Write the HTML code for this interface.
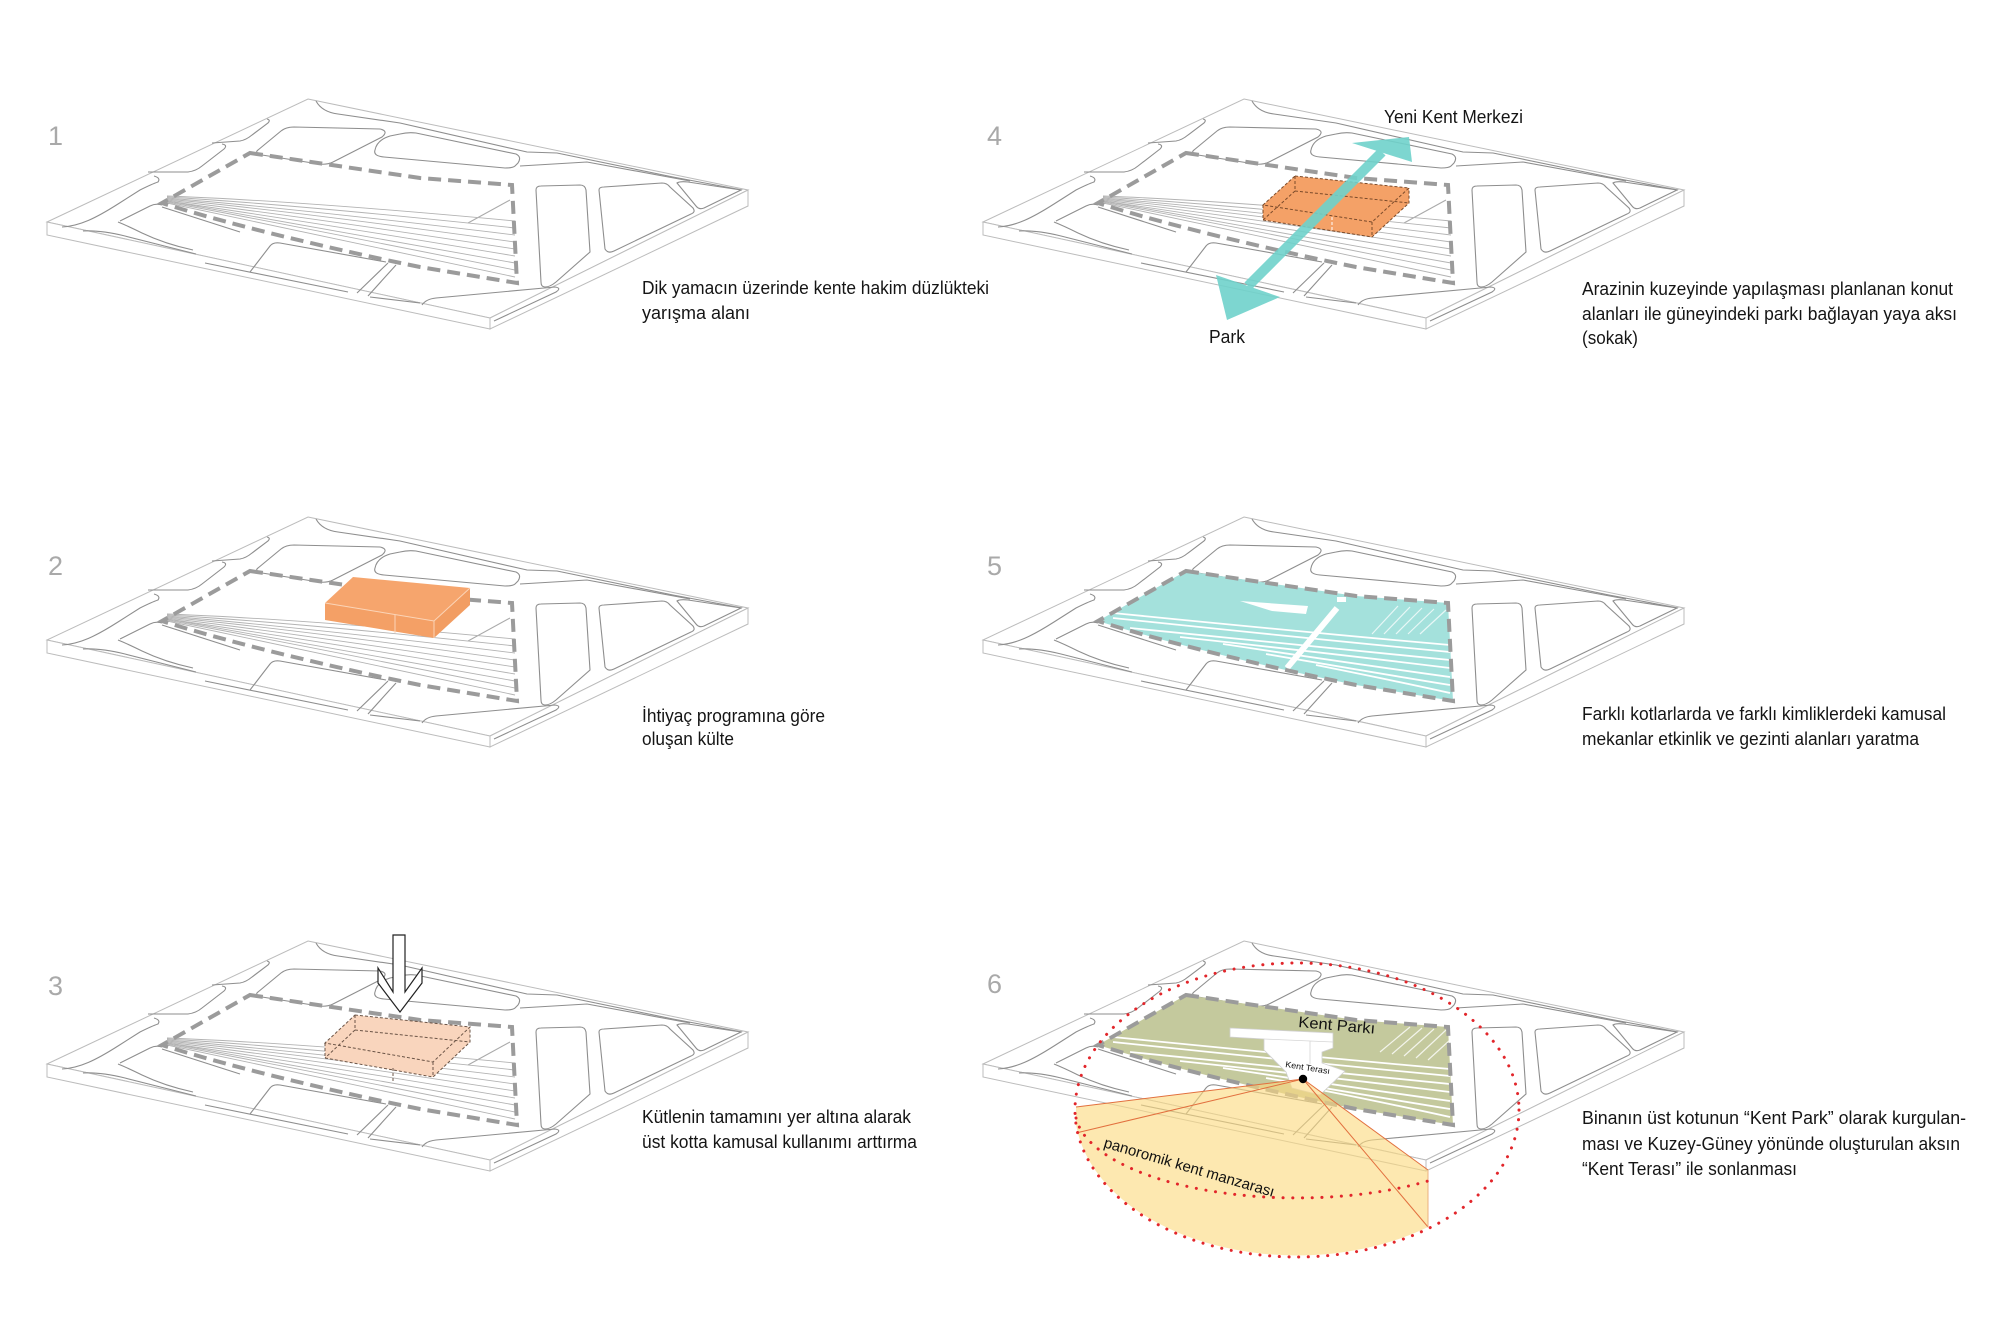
<!DOCTYPE html>
<html><head><meta charset="utf-8"><style>
html,body{margin:0;padding:0;background:#fff;}
svg{display:block;}
text{font-family:"Liberation Sans",Arial,sans-serif;}
</style></head><body>
<svg width="2000" height="1321" viewBox="0 0 2000 1321" xmlns="http://www.w3.org/2000/svg">
<defs>
<g id="base">
 <path d="M308,99 L748,190 L490,318 L47,222 Z" fill="#fff" stroke="#bcbcbc" stroke-width="1"/>
 <path d="M47,222 L490,318 L490,329 L47,235 Z" fill="#fff" stroke="#bcbcbc" stroke-width="1"/>
 <path d="M490,318 L748,190 L748,206 L490,329 Z" fill="#fff" stroke="#bcbcbc" stroke-width="1"/>
 <g fill="none" stroke="#8e8e8e" stroke-width="1.1">
  <path d="M316,101 Q322,112 338,114 L400,123 L527,152 L557,153 L673,177 L742,190"/>
  <path d="M258,150 L281,131 Q286,127 294,127 L380,129 Q389,131 382,137 L333,162 Q327,165 319,164 L262,155 Q254,153 258,150 Z"/>
  <path d="M375,150 Q377,140 390,136 L400,134 Q408,132 416,133 L516,154 Q522,157 518,163 L515,166 Q513,168 505,168 L384,157 Q373,156 375,150 Z"/>
  <path d="M520,166 L587,162 L690,181"/>
  <path d="M62,227 C80,226 96,218 118,204 L140,190 Q152,184 158,182 Q161,178 154,176"/>
  <path d="M148,172 L188,172 Q196,171 202,166 L224,149 Q228,145 222,144"/>
  <path d="M212,143 L240,141 Q246,140 252,135 L268,123 Q271,120 267,119"/>
  <path d="M83,231 Q100,230 125,236 L196,254"/>
  <path d="M118,222 Q128,226 142,233 Q165,244 193,250"/>
  <path d="M120,221 L150,206 Q156,203 162,205"/>
  <path d="M162,207 L240,232"/>
  <path d="M205,263 L348,292"/>
  <path d="M250,272 L270,246 Q273,242 280,243 L386,262"/>
  <path d="M388,263 L357,293"/>
  <path d="M396,265 L368,296"/>
  <path d="M370,297 L420,303"/>
  <path d="M422,305 Q426,299 436,298 L555,287 Q562,288 556,292 L494,321"/>
  <path d="M536,190 Q536,186 541,186 L580,185 Q585,185 586,190 L590,252 L556,282 Q550,287 545,287 Q541,287 541,282 Z"/>
  <path d="M599,190 Q599,187 604,187 L662,183 Q667,183 670,187 L693,208 Q696,212 691,214 L614,251 Q608,254 605,249 Z"/>
  <path d="M677,183 Q680,181 688,182 L741,190 L704,208 Q699,210 696,206 Z"/>
  <path d="M468,223 L510,200" stroke="#aaa"/>
 </g>
</g>
<path id="site" d="M250,153 L420,178 L512,185 L517,283 L420,267 C360,255 240,228 162,203 Z"/>
<g id="terr">
 <path d="M167,196 Q300,201 515,221"/>
 <path d="M167,197 Q300,205 515,228"/>
 <path d="M167,198 Q300,209 515,235"/>
 <path d="M167,199 Q300,212 515,242"/>
 <path d="M167,200 Q300,216 515,249"/>
 <path d="M167,201 Q300,220 515,256"/>
 <path d="M167,201 Q300,224 515,263"/>
 <path d="M167,202 Q300,227 515,270"/>
 <path d="M167,203 Q300,231 515,277"/>
</g>
<g id="terr2">
 <path d="M177,195 Q377,215 514,227"/>
 <path d="M177,200 Q377,221 514,234"/>
 <path d="M194,210 Q377,229 514,242"/>
 <path d="M244,219 Q400,236 514,250"/>
 <path d="M287,226 Q420,246 514,259"/>
 <path d="M330,236 Q440,255 514,267"/>
 <path d="M380,247 Q460,263 514,275"/>
</g>
</defs>

<!-- PANEL 1 -->
<use href="#base"/>
<use href="#terr" fill="none" stroke="#b3b3b3" stroke-width="0.9"/>
<use href="#site" fill="none" stroke="#9b9b9b" stroke-width="4" stroke-dasharray="13 7"/>

<!-- PANEL 2 -->
<g transform="translate(0,418)">
 <use href="#base"/>
 <use href="#terr" fill="none" stroke="#b3b3b3" stroke-width="0.9"/>
 <use href="#site" fill="none" stroke="#9b9b9b" stroke-width="4" stroke-dasharray="13 7"/>
</g>
<path d="M325,603 L434,621 L434,638 L325,620 Z" fill="#f4a066"/>
<path d="M434,621 L470,588 L470,605 L434,638 Z" fill="#f29d62"/>
<path d="M353,577 L470,588 L434,621 L325,603 Z" fill="#f6a56d"/>
<g stroke="#fbd5b8" stroke-width="1" fill="none">
 <path d="M325,603 L434,621 L470,588"/><path d="M434,621 L434,638"/><path d="M395,615 L395,633"/>
</g>

<!-- PANEL 3 -->
<g transform="translate(0,842)">
 <use href="#base"/>
 <use href="#terr" fill="none" stroke="#b3b3b3" stroke-width="0.9"/>
 <use href="#site" fill="none" stroke="#9b9b9b" stroke-width="4" stroke-dasharray="13 7"/>
</g>
<path d="M355,1015 L470,1027 L470,1042 L433,1077 L325,1058 L325,1043 Z" fill="#f9d5bd"/>
<g stroke="#6b5446" stroke-width="1" fill="none" stroke-dasharray="3 2">
 <path d="M355,1015 L470,1027 L433,1062 L325,1043 Z"/>
 <path d="M325,1043 L325,1058 L433,1077 L470,1042 L470,1027"/>
 <path d="M433,1062 L433,1077"/>
 <path d="M355,1015 L355,1030 L325,1058 M355,1030 L470,1042"/>
 <path d="M393,1068 L393,1083"/>
</g>
<path d="M393,935 L393,992 L378,968 L378,983 L400,1012 L422,983 L422,968 L405,992 L405,935 Z" fill="#fff" stroke="#222" stroke-width="1.2" stroke-linejoin="miter"/>

<!-- PANEL 4 -->
<g transform="translate(936,0)">
 <use href="#base"/>
 <use href="#terr" fill="none" stroke="#b3b3b3" stroke-width="0.9"/>
 <use href="#site" fill="none" stroke="#9b9b9b" stroke-width="4" stroke-dasharray="13 7"/>
</g>
<path d="M1295,176 L1409,188 L1409,203 L1372,237 L1263,220 L1263,205 Z" fill="#f4a167"/>
<g stroke="#7a4a2a" stroke-width="1" fill="none" stroke-dasharray="3 2">
 <path d="M1295,176 L1409,188 L1372,222 L1263,205 Z"/>
 <path d="M1263,205 L1263,220 L1372,237 L1409,203 L1409,188"/>
 <path d="M1372,222 L1372,237"/>
 <path d="M1295,176 L1295,191 L1263,220 M1295,191 L1409,203"/>
</g>
<path d="M1332,217 L1332,235" stroke="#fff" stroke-width="1" stroke-dasharray="3 2"/>
<g fill="#6fd2cb" opacity="0.9">
 <line x1="1248" y1="286" x2="1382" y2="152" stroke="#6fd2cb" stroke-width="10"/>
 <polygon points="1352,143 1409,137 1412,162"/>
 <polygon points="1216,275 1280,297 1227,320"/>
</g>

<!-- PANEL 5 -->
<g transform="translate(936,418)">
 <use href="#base"/>
 <use href="#site" fill="#a4e1dc" stroke="none"/>
 <use href="#terr2" fill="none" stroke="#ffffff" stroke-width="1.8"/>
</g>
<g stroke="#fff" stroke-width="1.2" opacity="0.75">
 <line x1="1372" y1="634" x2="1398" y2="606"/>
 <line x1="1384" y1="634" x2="1410" y2="607"/>
 <line x1="1396" y1="634" x2="1422" y2="608"/>
 <line x1="1408" y1="634" x2="1434" y2="609"/>
 <line x1="1420" y1="634" x2="1446" y2="610"/>
</g>
<line x1="1287" y1="668" x2="1337" y2="608" stroke="#fff" stroke-width="6"/>
<polygon points="1240,601 1308,606 1306,614 1272,611" fill="#fff"/>
<rect x="1337" y="597" width="9" height="5" fill="#fff"/>
<use href="#site" transform="translate(936,418)" fill="none" stroke="#9b9b9b" stroke-width="4" stroke-dasharray="13 7"/>

<!-- PANEL 6 -->
<g transform="translate(936,842)">
 <use href="#base"/>
 <use href="#site" fill="#c4c99d" stroke="none"/>
 <use href="#terr2" fill="none" stroke="#ffffff" stroke-width="1.8"/>
</g>
<g stroke="#fff" stroke-width="1.2" opacity="0.8">
 <line x1="1380" y1="1052" x2="1410" y2="1027"/>
 <line x1="1392" y1="1054" x2="1422" y2="1028"/>
 <line x1="1404" y1="1056" x2="1434" y2="1029"/>
 <line x1="1416" y1="1058" x2="1446" y2="1030"/>
 <line x1="1428" y1="1060" x2="1450" y2="1040"/>
</g>
<polygon points="1230,1028 1333,1033 1333,1048 1322,1052 1322,1063 1345,1071 1320,1095 1292,1088 1286,1072 1264,1050 1264,1039 1230,1037" fill="#fff" stroke="#d0d0d0" stroke-width="0.8"/>
<path d="M1264,1039 L1333,1042 M1310,1041 L1310,1064" stroke="#d6d6d6" stroke-width="0.8" fill="none"/>
<use href="#site" transform="translate(936,842)" fill="none" stroke="#9b9b9b" stroke-width="4" stroke-dasharray="13 7"/>
<path d="M1076,1107 L1303,1079 L1428,1170 L1428,1227 A222,147 0 0,1 1076,1124 Z" fill="#fcda80" opacity="0.62"/>
<g stroke="#e2703f" stroke-width="1" fill="none">
 <path d="M1076,1107 L1303,1079"/>
 <path d="M1076,1133 L1303,1079"/>
 <path d="M1303,1079 L1428,1170"/>
 <path d="M1303,1079 L1428,1227"/>
 <path d="M1428,1170 L1428,1227" stroke="#eab080"/>
</g>
<ellipse cx="1297" cy="1110" rx="222" ry="147" fill="none" stroke="#e2262b" stroke-width="3" stroke-linecap="round" stroke-dasharray="0.1 9.6"/>
<path d="M1076,1118 A222,88 0 0,0 1428,1181" fill="none" stroke="#e2262b" stroke-width="3" stroke-linecap="round" stroke-dasharray="0.1 9.6"/>
<circle cx="1303" cy="1079" r="4.2" fill="#000"/>
<text transform="translate(1298,1027) rotate(5)" font-size="15.5" fill="#111" textLength="77" lengthAdjust="spacingAndGlyphs">Kent Parkı</text>
<text transform="translate(1285,1067) rotate(9)" font-size="8.5" fill="#111" textLength="45" lengthAdjust="spacingAndGlyphs">Kent Terası</text>
<text transform="translate(1103,1147) rotate(16.4)" font-size="15" fill="#111" textLength="177" lengthAdjust="spacingAndGlyphs">panoromik kent manzarası</text>

<!-- numbers -->
<g font-size="27" fill="#a9a9a9">
 <text x="48" y="145">1</text>
 <text x="48" y="575">2</text>
 <text x="48" y="995">3</text>
 <text x="987" y="145">4</text>
 <text x="987" y="575">5</text>
 <text x="987" y="993">6</text>
</g>

<!-- labels -->
<g font-size="18" fill="#151515">
 <text x="1384" y="123" textLength="139" lengthAdjust="spacingAndGlyphs">Yeni Kent Merkezi</text>
 <text x="1209" y="343" textLength="36" lengthAdjust="spacingAndGlyphs">Park</text>

 <text x="642" y="294" textLength="347" lengthAdjust="spacingAndGlyphs">Dik yamacın üzerinde kente hakim düzlükteki</text>
 <text x="642" y="319">yarışma alanı</text>

 <text x="1582" y="295" textLength="371" lengthAdjust="spacingAndGlyphs">Arazinin kuzeyinde yapılaşması planlanan konut</text>
 <text x="1582" y="320" textLength="375" lengthAdjust="spacingAndGlyphs">alanları ile güneyindeki parkı bağlayan yaya aksı</text>
 <text x="1582" y="344" textLength="56" lengthAdjust="spacingAndGlyphs">(sokak)</text>

 <text x="642" y="722" textLength="183" lengthAdjust="spacingAndGlyphs">İhtiyaç programına göre</text>
 <text x="642" y="745" textLength="92" lengthAdjust="spacingAndGlyphs">oluşan külte</text>

 <text x="1582" y="720" textLength="364" lengthAdjust="spacingAndGlyphs">Farklı kotlarlarda ve farklı kimliklerdeki kamusal</text>
 <text x="1582" y="745" textLength="337" lengthAdjust="spacingAndGlyphs">mekanlar etkinlik ve gezinti alanları yaratma</text>

 <text x="642" y="1123" textLength="269" lengthAdjust="spacingAndGlyphs">Kütlenin tamamını yer altına alarak</text>
 <text x="642" y="1148" textLength="275" lengthAdjust="spacingAndGlyphs">üst kotta kamusal kullanımı arttırma</text>

 <text x="1582" y="1124" textLength="384" lengthAdjust="spacingAndGlyphs">Binanın üst kotunun “Kent Park” olarak kurgulan-</text>
 <text x="1582" y="1150" textLength="378" lengthAdjust="spacingAndGlyphs">ması ve Kuzey-Güney yönünde oluşturulan aksın</text>
 <text x="1582" y="1175" textLength="215" lengthAdjust="spacingAndGlyphs">“Kent Terası” ile sonlanması</text>
</g>
</svg>
</body></html>
